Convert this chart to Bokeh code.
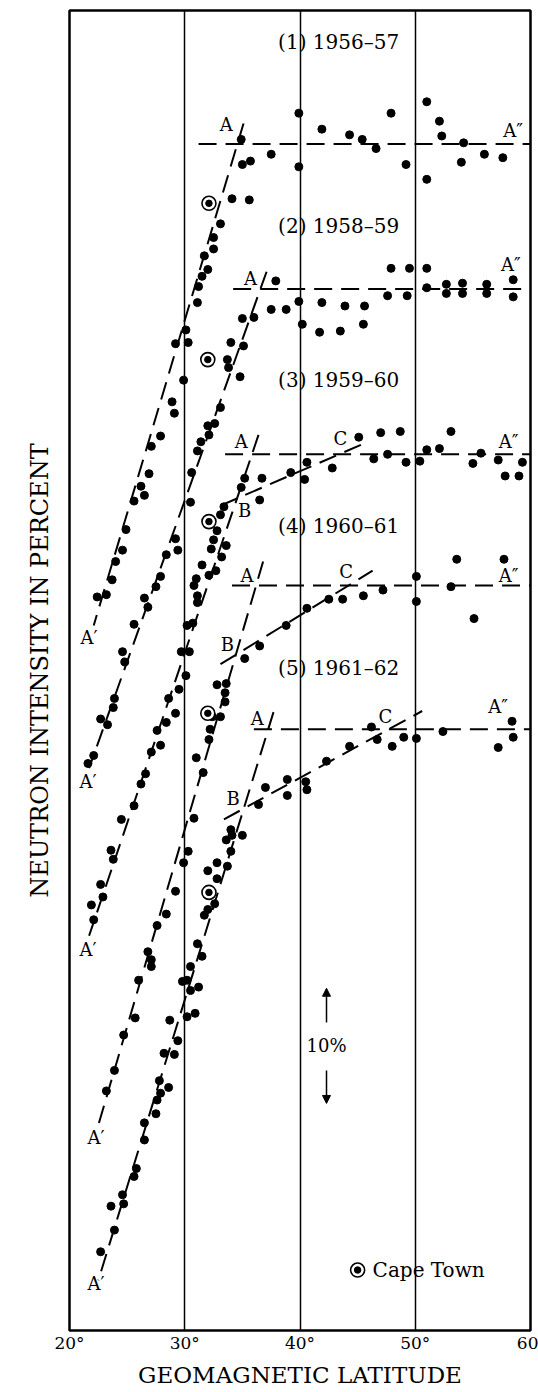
from bokeh.plotting import figure
from bokeh.models import Range1d, FixedTicker, Arrow, NormalHead
from bokeh.core.properties import value
from bokeh.embed import file_html
from bokeh.resources import INLINE

# ---------------- data ----------------
series_names = ["(1)  1956\u201357", "(2)  1958\u201359", "(3)  1959\u201360",
                "(4)  1960\u201361", "(5)  1961\u201362"]
# vertical display offset of each curve (percent); plateau A'' = 100 %
offsets = [4.0, -8.7, -23.2, -34.7, -47.3]

s1_lat = [39.9, 39.9, 34.9, 35.0, 35.7, 37.5, 41.9, 44.3, 45.4, 46.6, 47.9, 49.2, 51.0, 52.1, 52.3, 51.0, 54.2, 54.0, 56.0, 57.6,
          34.1, 35.6, 33.1, 32.5, 32.5, 31.7, 32.0, 31.5, 31.2, 31.1, 30.1, 29.2, 30.3, 29.9, 28.9, 29.1, 27.9, 27.1, 26.9, 26.2,
          26.5, 25.6, 24.9, 24.6, 24.0, 23.7, 22.4, 23.2]
s1_int = [102.7, 98.0, 100.4, 98.2, 98.5, 99.1, 101.3, 100.8, 100.4, 99.6, 102.7, 98.2, 103.7, 102.0, 100.7, 96.9, 100.1, 98.4, 99.1, 98.8,
          95.2, 95.1, 93.0, 91.8, 90.8, 90.2, 89.0, 88.4, 87.5, 86.1, 83.7, 82.5, 82.6, 79.3, 77.4, 76.4, 74.4, 73.5, 71.1, 70.0,
          69.2, 68.7, 66.2, 64.4, 63.4, 61.8, 60.3, 60.5]

s2_lat = [37.9, 37.5, 38.8, 39.9, 40.2, 41.9, 41.7, 43.5, 43.9, 45.6, 45.5, 47.6, 47.9, 49.3, 49.5, 51.0, 51.0, 52.7, 52.7, 54.1,
          54.1, 56.2, 56.2, 58.5, 58.5,
          35.0, 36.0, 34.0, 35.1, 33.7, 33.8, 34.8, 33.1, 32.6, 32.0, 32.1, 31.4, 31.1, 30.6, 30.5, 29.2, 29.4, 28.4, 27.9, 27.5,
          26.5, 26.8, 25.6, 24.6, 24.8, 23.9, 23.8, 22.7, 23.3, 22.1, 21.6]
s2_int = [100.7, 98.2, 98.2, 98.9, 96.9, 98.8, 96.2, 96.3, 98.5, 98.5, 96.9, 99.4, 101.8, 99.4, 101.8, 101.8, 100.1, 100.4, 99.6, 100.5,
          99.6, 100.4, 99.6, 100.8, 99.3,
          97.4, 97.5, 95.3, 95.0, 93.8, 93.1, 92.3, 89.6, 88.2, 88.0, 87.2, 86.6, 85.8, 83.9, 81.3, 78.1, 77.1, 76.7, 74.8, 73.9,
          72.9, 72.1, 70.6, 68.2, 67.3, 64.1, 63.3, 62.3, 61.8, 59.1, 58.4]

s3_lat = [45.1, 47.0, 48.7, 53.1, 46.4, 47.6, 49.2, 50.4, 51.0, 52.1, 55.0, 55.7, 57.2, 59.3, 57.8, 59.0, 40.6, 40.4, 39.2, 42.8,
          36.7, 35.2, 34.9, 36.5,
          33.4, 33.1, 32.8, 32.5, 33.6, 32.3, 33.2, 31.5, 32.7, 32.1, 31.0, 30.8, 31.1, 31.1, 30.7, 30.2, 29.7, 30.4, 30.1, 29.5,
          28.6, 29.2, 28.4, 27.6, 27.9, 27.1, 26.6, 26.2, 25.6, 24.5, 23.6, 23.8, 22.7, 22.9, 21.9, 22.1]
s3_int = [101.5, 101.9, 102.0, 102.0, 99.6, 100.0, 99.3, 99.4, 100.4, 100.5, 99.2, 100.1, 99.5, 99.3, 98.1, 98.1, 99.3, 97.8, 98.4, 98.8,
          97.9, 97.9, 97.1, 96.0,
          95.4, 94.7, 93.3, 92.5, 92.0, 91.7, 91.0, 90.3, 89.8, 89.4, 89.1, 88.5, 87.6, 87.0, 85.2, 85.0, 82.7, 82.7, 80.6, 79.4,
          78.6, 77.3, 76.5, 75.8, 74.5, 73.9, 72.0, 71.1, 69.2, 68.0, 65.3, 64.5, 62.3, 61.2, 60.5, 59.2]

s4_lat = [53.6, 57.7, 50.1, 53.1, 47.2, 45.5, 43.7, 42.5, 50.1, 55.1, 40.6, 38.8, 36.5, 35.2,
          32.8, 33.6, 33.5, 33.5, 32.4, 33.1, 32.2, 32.1, 31.0, 31.6, 30.8, 30.3, 29.9, 29.2, 28.4, 27.6, 26.8, 27.1, 27.1, 26.0,
          25.7, 24.7, 23.9, 23.2]
s4_int = [102.3, 102.3, 100.8, 99.9, 99.6, 99.1, 98.8, 98.8, 98.6, 97.1, 98.0, 96.5, 94.7, 93.6,
          91.3, 91.4, 90.6, 89.8, 88.5, 88.5, 87.4, 86.5, 84.9, 83.6, 79.6, 76.7, 75.7, 73.2, 71.2, 70.2, 67.9, 67.2, 66.6, 65.4,
          62.1, 60.6, 57.5, 55.7]

s5_lat = [46.2, 50.1, 52.4, 49.0, 48.0, 46.7, 44.3, 42.3, 40.5, 40.6, 38.9, 38.9, 37.0, 36.4, 58.4, 58.5, 57.2,
          35.0, 34.0, 34.1, 33.6, 34.0, 32.8, 32.0, 33.7, 32.8, 32.6, 31.7, 32.0, 31.1, 31.5, 30.5, 30.2, 29.8, 31.2, 30.5, 30.9,
          30.2, 28.7, 29.4, 28.2, 29.1, 27.8, 28.6, 27.9, 27.6, 27.5, 26.5, 26.5, 25.8, 25.6, 24.6, 24.7, 23.6, 23.9, 22.7]
s5_int = [100.2, 99.2, 99.8, 99.3, 98.5, 99.1, 98.5, 97.2, 95.4, 94.7, 95.6, 94.2, 94.9, 93.4, 100.7, 99.3, 98.4,
          90.7, 91.2, 90.7, 90.3, 89.3, 88.3, 87.6, 88.0, 86.9, 84.7, 83.7, 84.2, 81.2, 80.1, 79.2, 78.0, 77.9, 77.4, 77.1, 75.1,
          74.8, 74.5, 72.7, 71.6, 71.5, 69.2, 68.6, 68.1, 67.5, 66.3, 65.5, 64.0, 61.5, 60.8, 59.2, 58.4, 58.2, 56.1, 54.2]

# Cape Town points (one per survey)
cape_lat = [32.1, 32.0, 32.1, 32.0, 32.1]
cape_int = [94.8, 93.8, 94.1, 88.8, 85.7]

# fitted dashed lines (latitude, intensity)
plateau_start = [31.2, 34.2, 33.5, 34.1, 36.0]           # A -> A'' level = 100 %
steep_lat0 = [35.1, 37.1, 36.4, 36.8, 37.7]               # A  end
steep_int0 = [101.8, 101.5, 101.7, 102.1, 101.5]
steep_lat1 = [22.1, 21.7, 21.7, 22.5, 22.5]               # A' end
steep_int1 = [57.8, 58.0, 57.8, 52.7, 51.7]
bc_series = [2, 3, 4]                                     # B -> C lines for surveys 3, 4, 5
bc_lat0 = [33.1, 33.1, 33.4]
bc_int0 = [95.5, 93.1, 92.1]
bc_lat1 = [45.9, 46.3, 50.6]
bc_int1 = [101.1, 101.3, 101.6]

x_ticks = [20, 30, 40, 50, 60]
x_tick_labels = ["20\u00b0", "30\u00b0", "40\u00b0", "50\u00b0", "60"]

lats = [s1_lat, s2_lat, s3_lat, s4_lat, s5_lat]
ints = [s1_int, s2_int, s3_int, s4_int, s5_int]

# ---------------- figure ----------------
SERIF = "DejaVu Serif"
p = figure(width=538, height=1392, output_backend="svg", toolbar_location=None,
           x_range=Range1d(20, 60), y_range=Range1d(0, 115.7),
           min_border_left=69, min_border_right=8, min_border_top=10, min_border_bottom=62)
p.background_fill_color = "white"
p.border_fill_color = "white"
p.outline_line_color = "black"
p.outline_line_width = 2.5

p.xaxis.ticker = FixedTicker(ticks=x_ticks)
p.xaxis.major_label_overrides = {t: l for t, l in zip(x_ticks, x_tick_labels)}
p.xaxis.axis_line_color = None
p.xaxis.major_tick_line_color = None
p.xaxis.minor_tick_line_color = None
p.xaxis.major_tick_out = 0
p.xaxis.major_label_standoff = 2
p.xaxis.major_label_text_font = SERIF
p.xaxis.major_label_text_font_size = "17px"
p.xaxis.major_label_text_color = "black"
p.xaxis.axis_label = "GEOMAGNETIC LATITUDE"
p.xaxis.axis_label_text_font = SERIF
p.xaxis.axis_label_text_font_style = "normal"
p.xaxis.axis_label_text_font_size = "23px"
p.xaxis.axis_label_standoff = 6
p.xaxis.axis_label_text_color = "black"

p.yaxis.ticker = FixedTicker(ticks=[])
p.yaxis.axis_line_color = None
p.yaxis.major_tick_line_color = None
p.yaxis.minor_tick_line_color = None
p.yaxis.major_tick_out = 0
p.yaxis.major_label_standoff = 0
p.yaxis.axis_label = "NEUTRON INTENSITY IN PERCENT"
p.yaxis.axis_label_text_font = SERIF
p.yaxis.axis_label_text_font_style = "normal"
p.yaxis.axis_label_text_font_size = "24px"
p.yaxis.axis_label_standoff = 16
p.yaxis.axis_label_text_color = "black"

p.xgrid.ticker = FixedTicker(ticks=[30, 40, 50])
p.xgrid.grid_line_color = "black"
p.xgrid.grid_line_width = 1.5
p.ygrid.visible = False

DASH = "18 9"
# plateau lines
p.segment(x0=plateau_start, y0=[100 + o for o in offsets], x1=[60] * 5, y1=[100 + o for o in offsets],
          line_color="black", line_width=2, line_dash=DASH)
# steep A - A' lines
p.segment(x0=steep_lat0, y0=[v + o for v, o in zip(steep_int0, offsets)],
          x1=steep_lat1, y1=[v + o for v, o in zip(steep_int1, offsets)],
          line_color="black", line_width=2, line_dash=DASH)
# B - C lines
p.segment(x0=bc_lat0, y0=[v + offsets[k] for v, k in zip(bc_int0, bc_series)],
          x1=bc_lat1, y1=[v + offsets[k] for v, k in zip(bc_int1, bc_series)],
          line_color="black", line_width=2, line_dash=DASH)

# data points
for la, it, off in zip(lats, ints, offsets):
    p.scatter(la, [v + off for v in it], size=8, color="black")

# Cape Town
cy = [v + o for v, o in zip(cape_int, offsets)]
p.scatter(cape_lat, cy, size=14, marker="circle", fill_color="white", line_color="black", line_width=1.6)
p.scatter(cape_lat, cy, size=6.5, marker="circle", color="black")

# curve labels
letter_x = [33.6, 58.5, 35.7, 58.3, 34.9, 43.5, 58.1, 35.2, 35.4, 44.0, 58.1, 33.7, 36.3, 47.4, 57.2, 34.2,
            21.7, 21.6, 21.6, 22.3, 22.3]
letter_y = [105.7, 105.2, 92.2, 93.4, 77.9, 78.2, 77.9, 71.9, 66.2, 66.5, 66.2, 60.1, 53.6, 53.8, 54.7, 46.6,
            60.7, 48.1, 33.4, 16.9, 4.1]
letter_t = ["A", "A\u2033", "A", "A\u2033", "A", "C", "A\u2033", "B", "A", "C", "A\u2033", "B", "A", "C", "A\u2033", "B",
            "A\u2032", "A\u2032", "A\u2032", "A\u2032", "A\u2032"]
p.text(x=letter_x, y=letter_y, text=letter_t, text_font=value(SERIF), text_font_size="18px",
       text_align="center", text_baseline="middle", text_color="black")

# survey titles
title_y = [112.9, 96.8, 83.3, 70.5, 58.1]
p.text(x=[38.1] * 5, y=title_y, text=series_names, text_font=value(SERIF), text_font_size="20px",
       text_align="left", text_baseline="middle", text_color="black")

# 10 % scale
p.add_layout(Arrow(end=NormalHead(size=8, fill_color="black", line_color="black"),
                   x_start=42.3, y_start=27.0, x_end=42.3, y_end=30.0, line_width=1.5, line_color="black"))
p.add_layout(Arrow(end=NormalHead(size=8, fill_color="black", line_color="black"),
                   x_start=42.3, y_start=22.8, x_end=42.3, y_end=19.9, line_width=1.5, line_color="black"))
p.text(x=[42.3], y=[25.0], text=["10%"], text_font=value(SERIF), text_font_size="18px",
       text_align="center", text_baseline="middle", text_color="black")

# legend for Cape Town
p.scatter([45.0], [5.3], size=14, marker="circle", fill_color="white", line_color="black", line_width=1.6)
p.scatter([45.0], [5.3], size=6.5, marker="circle", color="black")
p.text(x=[46.3], y=[5.3], text=["Cape Town"], text_font=value(SERIF), text_font_size="20px",
       text_align="left", text_baseline="middle", text_color="black")

open("out.html", "w").write(file_html(p, INLINE))
